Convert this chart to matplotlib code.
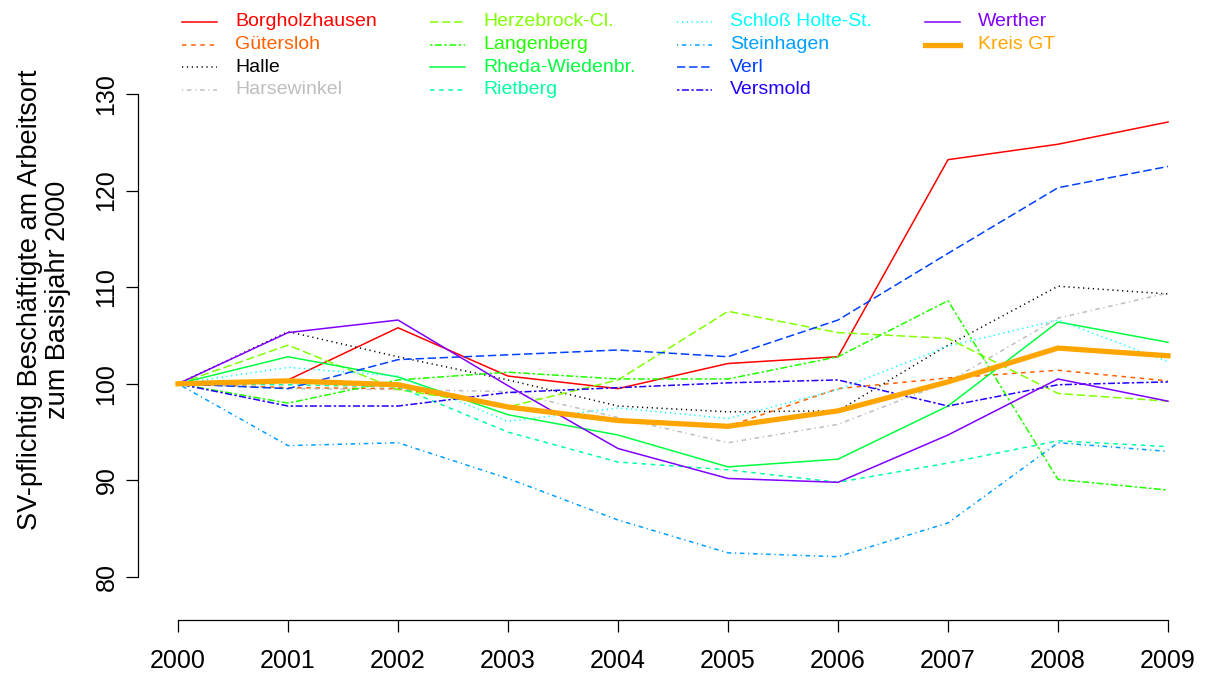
import matplotlib
matplotlib.use('Agg')
import matplotlib.pyplot as plt
from matplotlib.lines import Line2D

plt.rcParams['font.family'] = ['Liberation Sans', 'DejaVu Sans']

# data (index, base year 2000 = 100)
years = [2000, 2001, 2002, 2003, 2004, 2005, 2006, 2007, 2008, 2009]

borgholzhausen = [100, 100.4, 105.8, 100.8, 99.5, 102.1, 102.8, 123.2, 124.8, 127.1]
guetersloh = [100, 99.6, 99.5, 97.6, 96.3, 95.6, 99.5, 100.6, 101.4, 100.3]
halle = [100, 105.4, 102.8, 100.4, 97.7, 97.1, 97.2, 104.0, 110.1, 109.3]
harsewinkel = [100, 99.5, 99.4, 99.2, 96.5, 93.9, 95.8, 100.2, 106.8, 109.4]
herzebrock = [100, 104.0, 99.4, 97.6, 100.4, 107.5, 105.3, 104.7, 99.0, 98.2]
langenberg = [100, 98.0, 100.4, 101.2, 100.5, 100.5, 102.8, 108.6, 90.1, 89.0]
rheda = [100, 102.8, 100.7, 96.8, 94.7, 91.4, 92.2, 97.7, 106.4, 104.3]
rietberg = [100, 99.9, 99.7, 95.0, 91.9, 91.1, 89.8, 91.8, 94.1, 93.5]
schloss_holte = [100, 101.7, 100.8, 96.1, 97.5, 96.4, 99.4, 103.9, 106.6, 102.3]
steinhagen = [100, 93.6, 93.9, 90.2, 85.9, 82.5, 82.1, 85.6, 93.9, 93.0]
verl = [100, 99.5, 102.5, 103.0, 103.5, 102.8, 106.6, 113.5, 120.3, 122.5]
versmold = [100, 97.7, 97.7, 99.1, 99.6, 100.1, 100.4, 97.7, 99.9, 100.2]
werther = [100, 105.3, 106.6, 99.8, 93.3, 90.2, 89.8, 94.7, 100.5, 98.2]
kreis_gt = [100, 100.3, 99.9, 97.6, 96.2, 95.6, 97.2, 100.2, 103.7, 102.9]

names = ['Borgholzhausen', 'Gütersloh', 'Halle', 'Harsewinkel', 'Herzebrock-Cl.',
         'Langenberg', 'Rheda-Wiedenbr.', 'Rietberg', 'Schloß Holte-St.', 'Steinhagen',
         'Verl', 'Versmold', 'Werther', 'Kreis GT']
series = [borgholzhausen, guetersloh, halle, harsewinkel, herzebrock, langenberg, rheda,
          rietberg, schloss_holte, steinhagen, verl, versmold, werther, kreis_gt]

colors = ['#FF0000', '#FF6000', '#000000', '#BEBEBE', '#80FF00', '#20FF00', '#00FF40',
          '#00FF9F', '#00FFFF', '#009FFF', '#0040FF', '#2000FF', '#8000FF', '#FFA500']

solid = '-'
dashed = (0, (3, 3))
dotted = (0, (0.8, 2.4))
dotdash = (0, (0.8, 2.4, 3, 2.4))
longdash = (0, (5.5, 2.4))
twodash = (0, (1.6, 1.6, 4.6, 1.6))
styles = [solid, dashed, dotted, dotdash, longdash, twodash, solid, dashed, dotted,
          dotdash, longdash, twodash, solid, solid]
widths = [1.1] * 13 + [3.8]

W, H = 1207, 673
dpi = 100
fig = plt.figure(figsize=(W / dpi, H / dpi), dpi=dpi)

# plot region in pixels: x 137.5..1208, y 0..620 (from top)
ax = fig.add_axes([137.5 / W, 53 / H, (1208 - 137.5) / W, 620 / H])
ppu = (577 - 94) / 50.0
ax.set_xlim(2000 - (178 - 137.5) / 110.0, 2009 + (1208 - 1168) / 110.0)
ax.set_ylim(130 - (620 - 94) / ppu, 130 + 94 / ppu)

for s, c, ls, lw in zip(series, colors, styles, widths):
    ax.plot(years, s, color=c, linestyle=ls, linewidth=lw)

for side in ['top', 'right']:
    ax.spines[side].set_visible(False)
ax.spines['left'].set_bounds(80, 130)
ax.spines['bottom'].set_bounds(2000, 2009)
ax.spines['left'].set_linewidth(0.9)
ax.spines['bottom'].set_linewidth(0.9)

ax.set_xticks(years)
ax.set_xticklabels([str(y) for y in years])
ax.set_yticks([80, 90, 100, 110, 120, 130])
ax.tick_params(axis='both', direction='out', length=8.6, width=0.9, labelsize=18)
ax.tick_params(axis='x', pad=12)
ax.tick_params(axis='y', pad=5)
for lab in ax.get_yticklabels():
    lab.set_rotation(90)
    lab.set_va('center')

fig.text(44 / W, 1 - 300 / H, 'SV-pflichtig Beschäftigte am Arbeitsort\nzum Basisjahr 2000',
         rotation=90, ha='center', va='center', fontsize=19.5, linespacing=1.1,
         multialignment='center')

# legend, 4 columns, drawn in figure pixels
row_y = [21.5, 44.5, 67, 89.5]
col_x = [182, 430, 677, 925]
for i, name in enumerate(names):
    x0 = col_x[i // 4]
    y = 1 - row_y[i % 4] / H
    fig.add_artist(Line2D([x0 / W, (x0 + 35) / W], [y, y], color=colors[i],
                          linestyle=styles[i], linewidth=widths[i]))
    fig.text((x0 + 53) / W, y, name, color=colors[i], fontsize=14, va='center')

fig.savefig('out.png', dpi=dpi)
